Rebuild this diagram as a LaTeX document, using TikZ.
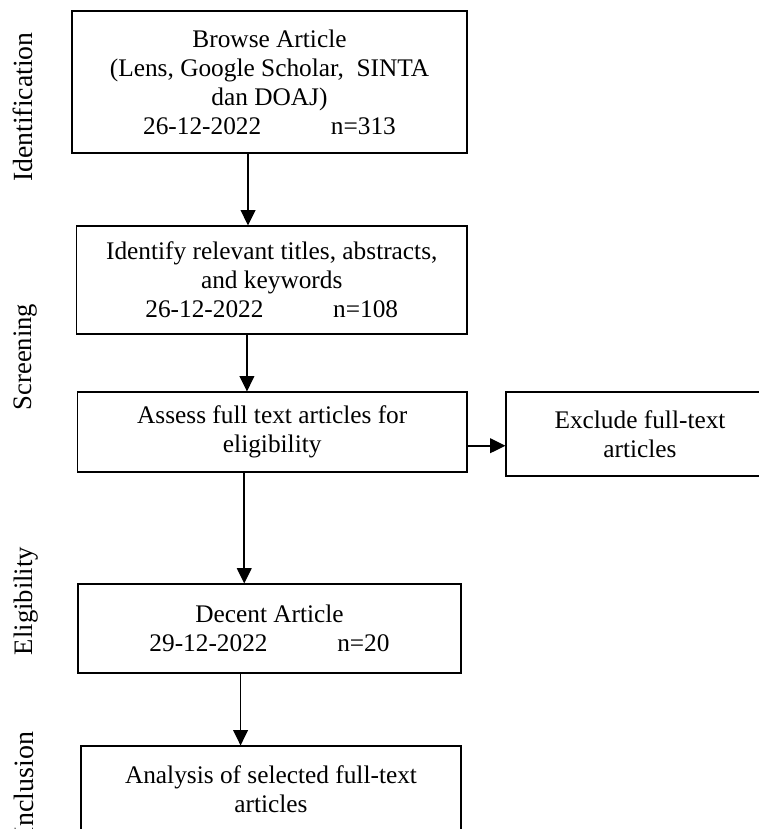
\documentclass[tikz,border=0pt]{standalone}
\usepackage{fontspec}
\setmainfont{Liberation Serif}
\usetikzlibrary{arrows.meta,calc}
\begin{document}
\begin{tikzpicture}[x=0.75pt,y=-0.75pt,
  box/.style={draw, line width=0.8pt, align=center, inner sep=0pt,
    font=\fontsize{19}{21.8}\selectfont},
  arr/.style={line width=1.2pt, -{Triangle[length=11.5pt,width=11pt]}},
  side/.style={rotate=90, inner sep=0pt, anchor=center}]
\useasboundingbox (0,0) rectangle (759,829);
\clip (0,0) rectangle (759,829);
\node[box, minimum width=296.25pt, minimum height=106.5pt] (b1) at (269.5,82)
  {Browse Article\\(Lens, Google Scholar,\ \ SINTA\\dan DOAJ)\\26-12-2022\hspace{2.75em}n=313};
\node[box, minimum width=292.9pt, minimum height=81pt] (b2) at (271.75,280)
  {Identify relevant titles, abstracts,\\and keywords\\26-12-2022\hspace{2.75em}n=108};
\node[box, minimum width=292.1pt, minimum height=60pt] (b3) at (272.25,432)
  {Assess full text articles for\\eligibility};
\node[box, minimum width=201pt, minimum height=63pt] (ex) at (640,434)
  {Exclude full-text\\articles};
\node[box, minimum width=287.25pt, minimum height=66.75pt] (b4) at (269.5,628.5)
  {Decent Article\\29-12-2022\hspace{2.75em}n=20};
\node[box, minimum width=285pt, minimum height=64.5pt] (b5) at (271,789)
  {Analysis of selected full-text\\articles};
\draw[arr] ([xshift=-16.1pt]b1.south) -- ([xshift=-16.1pt]b1.south |- b2.north);
\draw[arr] ([xshift=-18.6pt]b2.south) -- ([xshift=-18.6pt]b2.south |- b3.north);
\draw[arr] ([xshift=-21pt]b3.south) -- ([xshift=-21pt]b3.south |- b4.north);
\draw[arr] ([xshift=-21.7pt]b4.south) -- ([xshift=-21.7pt]b4.south |- b5.north);
\draw[arr] ([yshift=-10.3pt]b3.east) -- ([yshift=-10.3pt]b3.east -| ex.west);
\node[side, font=\fontsize{20.8}{24}\selectfont] (l1) at (23,107) {Identification};
\node[side, font=\fontsize{20}{24}\selectfont] (l2) at (26,357) {Screening};
\node[side, font=\fontsize{20}{24}\selectfont] (l3) at (26.5,601) {Eligibility};
\node[side, font=\fontsize{21}{25}\selectfont] (l4) at (24,784) {Inclusion};
\end{tikzpicture}
\end{document}
